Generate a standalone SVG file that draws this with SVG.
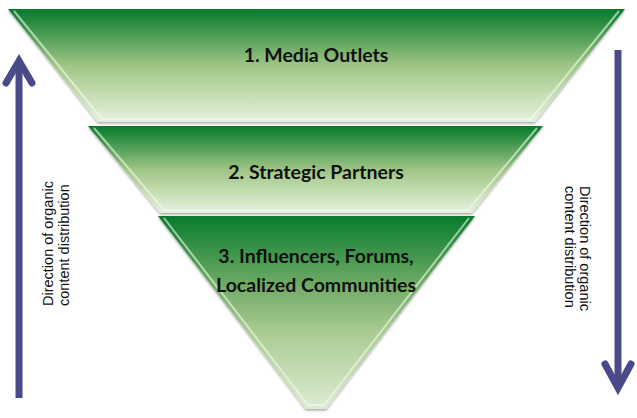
<svg xmlns="http://www.w3.org/2000/svg" width="637" height="418" viewBox="0 0 637 418">
  <defs>
    <linearGradient id="g" x1="0" y1="0" x2="0" y2="1">
      <stop offset="0" stop-color="#067a2b"/>
      <stop offset="0.1" stop-color="#23893c"/>
      <stop offset="0.5" stop-color="#9fc585"/>
      <stop offset="0.75" stop-color="#c4ddb1"/>
      <stop offset="1" stop-color="#e5f1de"/>
    </linearGradient>
    <linearGradient id="g3" x1="0" y1="0" x2="0" y2="1">
      <stop offset="0" stop-color="#067a2b"/>
      <stop offset="0.08" stop-color="#1e873a"/>
      <stop offset="0.35" stop-color="#6eaa64"/>
      <stop offset="0.6" stop-color="#aacb92"/>
      <stop offset="1" stop-color="#dcecd3"/>
    </linearGradient>
    <filter id="sh" x="-5%" y="-5%" width="110%" height="115%">
      <feDropShadow dx="0" dy="1.5" stdDeviation="1" flood-color="#000" flood-opacity="0.35"/>
    </filter>
  </defs>
  <style>
    .seg { filter: url(#sh); }
    .bev { fill: none; stroke: #f4fbef; stroke-width: 2; stroke-opacity: 0.6; }
    .lbl { font-family: Lato, "Liberation Sans", sans-serif; font-weight: 700; font-size: 19.5px; fill: #111; text-anchor: middle; }
    .side { font-family: "Liberation Sans", Arial, sans-serif; font-size: 14.5px; fill: #111; }
    .arr { fill: none; stroke: #4b4a89; stroke-width: 7; }
  </style>

  <g id="segment-1">
    <polygon class="seg" points="8,9 625,9 535,122 98,122" fill="url(#g)"/>
    <polyline class="bev" points="14,11 102,119 531,119 619,11"/>
    <text class="lbl" x="316" y="62">1. Media Outlets</text>
  </g>

  <g id="segment-2">
    <polygon class="seg" points="88,126 543,126 472,213 160,213" fill="url(#g)"/>
    <polyline class="bev" points="94,128 164,210 468,210 537,128"/>
    <text class="lbl" x="316" y="179">2. Strategic Partners</text>
  </g>

  <g id="segment-3">
    <polygon class="seg" points="158,216 475,216 326,409 306,409" fill="url(#g3)"/>
    <polyline class="bev" points="164,218 308,405 324,405 469,218"/>
    <text class="lbl" x="316" y="263">3. Influencers, Forums,</text>
    <text class="lbl" x="316" y="292">Localized Communities</text>
  </g>

  <g id="connectors">
    <g id="arrow-up">
      <line class="arr" x1="19" y1="398" x2="19" y2="62"/>
      <polyline class="arr" points="6,83 19,61 32,83" stroke-linecap="round" stroke-linejoin="miter"/>
    </g>
    <g id="arrow-down">
      <line class="arr" x1="618" y1="50" x2="618" y2="386"/>
      <polyline class="arr" points="605,364 618,388 631,364" stroke-linecap="round" stroke-linejoin="miter"/>
    </g>
  </g>

  <g id="label-left">
    <text class="side" transform="translate(53,306) rotate(-90)">Direction of organic</text>
    <text class="side" transform="translate(69,306) rotate(-90)">content distribution</text>
  </g>
  <g id="label-right">
    <text class="side" transform="translate(580,186) rotate(90)">Direction of organic</text>
    <text class="side" transform="translate(565,186) rotate(90)">content distribution</text>
  </g>
</svg>
